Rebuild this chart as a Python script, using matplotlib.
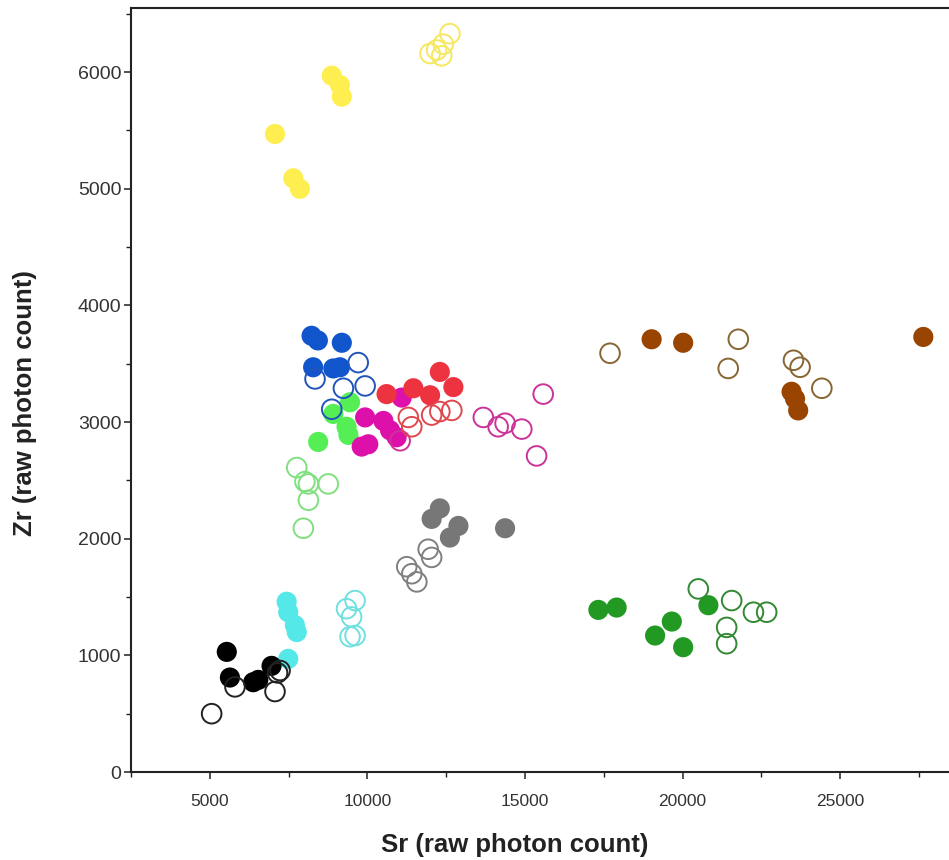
import matplotlib
matplotlib.use("Agg")
import matplotlib.pyplot as plt
from matplotlib.ticker import MultipleLocator

# ---- data (Sr, Zr raw photon counts) ----
yellow_fill_x = [7070, 8870, 9130, 9190, 7650, 7860]
yellow_fill_y = [5470, 5970, 5890, 5790, 5090, 5000]
yellow_open_x = [12620, 12410, 12200, 11990, 12360]
yellow_open_y = [6330, 6240, 6190, 6160, 6140]

blue_fill_x = [8230, 8430, 9190, 8280, 8920, 9130]
blue_fill_y = [3740, 3700, 3680, 3470, 3460, 3470]
blue_open_x = [9710, 8340, 9240, 9930, 8870]
blue_open_y = [3510, 3370, 3290, 3310, 3110]

lgreen_fill_x = [9450, 8920, 9340, 9400, 8440]
lgreen_fill_y = [3170, 3070, 2960, 2890, 2830]
lgreen_open_x = [7760, 8020, 8130, 8760, 8130, 7970]
lgreen_open_y = [2610, 2490, 2470, 2470, 2330, 2090]

magenta_fill_x = [9930, 10510, 10720, 10930, 9820, 10030, 11090]
magenta_fill_y = [3040, 3010, 2930, 2870, 2790, 2810, 3210]
magenta_open_x = [15580, 13680, 14150, 14370, 14900, 15370, 11040]
magenta_open_y = [3240, 3040, 2960, 2990, 2940, 2710, 2840]

red_fill_x = [12300, 12730, 10610, 11460, 11990]
red_fill_y = [3430, 3300, 3240, 3290, 3230]
red_open_x = [11300, 11410, 12040, 12300, 12680]
red_open_y = [3040, 2960, 3060, 3090, 3100]

gray_fill_x = [12300, 12040, 12890, 12620, 14370]
gray_fill_y = [2260, 2170, 2110, 2010, 2090]
gray_open_x = [11250, 11410, 11570, 11930, 12040]
gray_open_y = [1760, 1700, 1630, 1910, 1840]

cyan_fill_x = [7440, 7490, 7700, 7760, 7490]
cyan_fill_y = [1460, 1370, 1260, 1200, 970]
cyan_open_x = [9610, 9340, 9500, 9610, 9450]
cyan_open_y = [1470, 1400, 1330, 1170, 1160]

black_fill_x = [5540, 5640, 6380, 6540, 6960]
black_fill_y = [1030, 810, 770, 790, 910]
black_open_x = [5060, 7070, 5800, 7230, 7150]
black_open_y = [500, 690, 730, 870, 850]

brown_fill_x = [19020, 20020, 27640, 23460, 23670, 23570]
brown_fill_y = [3710, 3680, 3730, 3260, 3100, 3200]
brown_open_x = [17700, 21770, 21450, 23520, 23730, 24420]
brown_open_y = [3590, 3710, 3460, 3530, 3470, 3290]

dgreen_fill_x = [17330, 17910, 19130, 19660, 20020, 20820]
dgreen_fill_y = [1390, 1410, 1170, 1290, 1070, 1430]
dgreen_open_x = [20500, 21560, 22250, 22670, 21400, 21400]
dgreen_open_y = [1570, 1470, 1370, 1370, 1240, 1100]

x_ticks = [5000, 10000, 15000, 20000, 25000]
y_ticks = [0, 1000, 2000, 3000, 4000, 5000, 6000]
x_label = "Sr (raw photon count)"
y_label = "Zr (raw photon count)"

groups = [
    # fill_x, fill_y, open_x, open_y, fill colour, edge colour
    (yellow_fill_x, yellow_fill_y, yellow_open_x, yellow_open_y, "#FFEE50", "#F5E860"),
    (lgreen_fill_x, lgreen_fill_y, lgreen_open_x, lgreen_open_y, "#55EE55", "#80E080"),
    (magenta_fill_x, magenta_fill_y, magenta_open_x, magenta_open_y, "#DD11AA", "#CC3399"),
    (red_fill_x, red_fill_y, red_open_x, red_open_y, "#EE3340", "#E04850"),
    (blue_fill_x, blue_fill_y, blue_open_x, blue_open_y, "#1155CC", "#2255BB"),
    (gray_fill_x, gray_fill_y, gray_open_x, gray_open_y, "#777777", "#808080"),
    (cyan_fill_x, cyan_fill_y, cyan_open_x, cyan_open_y, "#55E8E8", "#70E0E0"),
    (black_fill_x, black_fill_y, black_open_x, black_open_y, "#000000", "#222222"),
    (brown_fill_x, brown_fill_y, brown_open_x, brown_open_y, "#994400", "#886633"),
    (dgreen_fill_x, dgreen_fill_y, dgreen_open_x, dgreen_open_y, "#229922", "#338833"),
]

fig = plt.figure(figsize=(9.49, 8.6), dpi=100)
ax = fig.add_axes([0.1380, 0.1023, 1.0015 - 0.1380, 0.8884])

ms = 210
for fx, fy, ox, oy, fc, ec in groups:
    ax.scatter(fx, fy, s=ms, c=fc, edgecolors="none", zorder=3)
    ax.scatter(ox, oy, s=ms * 0.95, facecolors="none", edgecolors=ec,
               linewidths=1.4, zorder=4)

ax.set_xlim(2500, 28500)
ax.set_ylim(0, 6550)
ax.set_xticks(x_ticks)
ax.set_yticks(y_ticks)
ax.xaxis.set_minor_locator(MultipleLocator(2500))
ax.yaxis.set_minor_locator(MultipleLocator(500))

for side in ["left", "bottom", "top", "right"]:
    ax.spines[side].set_linewidth(1.5)
    ax.spines[side].set_color("#222222")

ax.tick_params(which="major", direction="out", length=5, width=1.1, color="#222222")
ax.tick_params(which="minor", direction="out", length=3.5, width=1.0, color="#222222")
ax.tick_params(axis="y", labelsize=14, labelcolor="#333333", pad=2)
ax.tick_params(axis="x", labelsize=12.5, labelcolor="#333333", pad=11)

for lab in ax.get_yticklabels():
    lab.set_family(["Liberation Sans", "DejaVu Sans"])
for lab in ax.get_xticklabels():
    lab.set_family(["Liberation Sans", "DejaVu Sans"])

ax.set_xlabel(x_label, fontsize=18.5, fontweight="bold", color="#222222",
              family=["Liberation Sans", "DejaVu Sans"])
ax.set_ylabel(y_label, fontsize=18.5, fontweight="bold", color="#222222",
              family=["Liberation Sans", "DejaVu Sans"])
ax.xaxis.label.set_va("center")
ax.yaxis.label.set_va("center")
ax.xaxis.set_label_coords(0.4687, -0.0955)
ax.yaxis.set_label_coords(-0.1294, 0.483)

fig.savefig("out.png", dpi=100)
